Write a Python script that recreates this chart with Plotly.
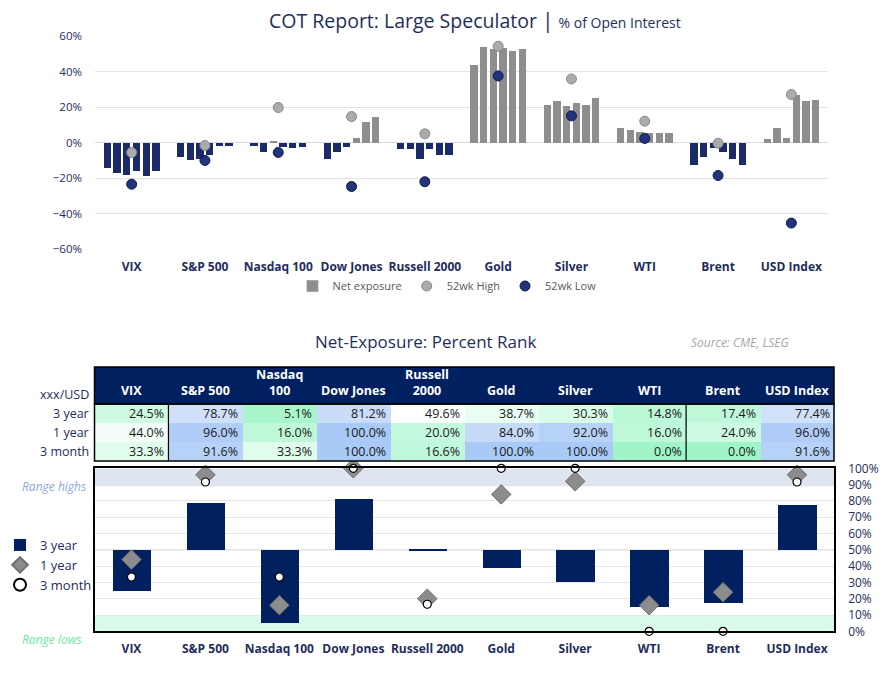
import plotly.graph_objects as go

# ---------------- data ----------------
categories = ["VIX", "S&P 500", "Nasdaq 100", "Dow Jones", "Russell 2000",
              "Gold", "Silver", "WTI", "Brent", "USD Index"]
header_labels = ["VIX", "S&P 500", "Nasdaq<br>100", "Dow Jones", "Russell<br>2000",
                 "Gold", "Silver", "WTI", "Brent", "USD Index"]

# net exposure, last 6 weekly readings (% of open interest)
net_vix = [-14.1, -16.9, -18.2, -16.3, -19.1, -16.3]
net_spx = [-7.9, -10.1, -9.4, -7.3, -1.9, -1.9]
net_ndx = [-1.9, -5.1, 0.5, -2.8, -3.0, -2.8]
net_dow = [-9.4, -5.4, -2.6, 2.4, 11.8, 14.1]
net_rty = [-3.6, -3.6, -9.4, -3.8, -6.8, -6.8]
net_gold = [43.7, 53.7, 52.9, 53.1, 51.6, 52.7]
net_silver = [21.4, 23.3, 20.6, 22.5, 21.4, 24.8]
net_wti = [7.9, 7.1, 6.0, 5.3, 5.4, 5.4]
net_brent = [-12.9, -8.3, -3.2, -5.1, -9.4, -12.9]
net_usd = [1.9, 8.4, 2.3, 26.5, 23.5, 23.8]
net_series = [net_vix, net_spx, net_ndx, net_dow, net_rty,
              net_gold, net_silver, net_wti, net_brent, net_usd]

high_52wk = [-5.6, -1.7, 19.7, 14.6, 4.9, 54.2, 35.8, 12.0, -0.4, 27.0]
low_52wk = [-23.5, -10.1, -5.6, -24.8, -22.1, 37.5, 15.0, 2.3, -18.6, -45.4]

rank_3y = [24.5, 78.7, 5.1, 81.2, 49.6, 38.7, 30.3, 14.8, 17.4, 77.4]
rank_1y = [44.0, 96.0, 16.0, 100.0, 20.0, 84.0, 92.0, 16.0, 24.0, 96.0]
rank_3m = [33.3, 91.6, 33.3, 100.0, 16.6, 100.0, 100.0, 0.0, 0.0, 91.6]
row_labels = ["3 year", "1 year", "3 month"]

# ---------------- styling ----------------
W, H = 892, 676
NAVY = "#1F2D5C"
BAR_NAVY = "#1B2A68"
BAR_GRAY = "#8E8E8E"
DARK = "#002060"
FONT = "Open Sans"


def px(x):
    return x / W


def py(y):
    return 1 - y / H


fig = go.Figure()

# ---------------- top chart ----------------
step = 0.132
bx, by, bc = [], [], []
for i, series in enumerate(net_series):
    for j, v in enumerate(series):
        bx.append(i + (j - 2.5) * step)
        by.append(v)
        bc.append(BAR_NAVY if v < 0 else BAR_GRAY)

fig.add_trace(go.Bar(x=bx, y=by, width=0.1, marker=dict(color=bc, line=dict(width=0)),
                     showlegend=False, hoverinfo="skip", xaxis="x", yaxis="y"))
fig.add_trace(go.Bar(x=[None], y=[None], name="Net exposure", marker_color=BAR_GRAY,
                     xaxis="x", yaxis="y", legend="legend"))
fig.add_trace(go.Scatter(x=list(range(10)), y=high_52wk, mode="markers", name="52wk High",
                         marker=dict(size=10, color="#ABABAB",
                                     line=dict(width=1, color="#8A8A8A")),
                         xaxis="x", yaxis="y", legend="legend", cliponaxis=False))
fig.add_trace(go.Scatter(x=list(range(10)), y=low_52wk, mode="markers", name="52wk Low",
                         marker=dict(size=10, color="#22347A",
                                     line=dict(width=1, color="#101B4E")),
                         xaxis="x", yaxis="y", legend="legend", cliponaxis=False))

# ---------------- table (heatmap) ----------------
fig.add_trace(go.Heatmap(
    z=[rank_3y, rank_1y, rank_3m], x=list(range(10)), y=[0, 1, 2],
    zmin=0, zmax=100, showscale=False, hoverinfo="skip",
    colorscale=[[0, "#9FF5C7"], [0.5, "#FFFFFF"], [1, "#A9C9F6"]],
    xaxis="x3", yaxis="y3"))

# ---------------- bottom chart ----------------
fig.add_trace(go.Bar(x=list(range(10)), y=[v - 50 for v in rank_3y], base=50, width=0.52,
                     name="3 year", marker=dict(color=DARK, line=dict(width=0)),
                     xaxis="x2", yaxis="y2", legend="legend2", hoverinfo="skip"))
fig.add_trace(go.Scatter(x=list(range(10)), y=rank_1y, mode="markers", name="1 year",
                         marker=dict(symbol="diamond", size=15, color="#8C8C8C",
                                     line=dict(color="#6E6E6E", width=1)),
                         xaxis="x2", yaxis="y2", legend="legend2", cliponaxis=False))
fig.add_trace(go.Scatter(x=list(range(10)), y=rank_3m, mode="markers", name="3 month",
                         marker=dict(symbol="circle", size=8, color="white",
                                     line=dict(color="black", width=1.2)),
                         xaxis="x2", yaxis="y2", legend="legend2", cliponaxis=False))

shapes = []
annotations = []

shapes.append(dict(type="rect", xref="x2 domain", yref="y2", x0=0, x1=1, y0=0, y1=10,
                   fillcolor="#DAFBEA", line=dict(width=0), layer="below"))
shapes.append(dict(type="rect", xref="x2 domain", yref="y2", x0=0, x1=1, y0=89, y1=100,
                   fillcolor="#DEE4F0", line=dict(width=0), layer="below"))
shapes.append(dict(type="line", xref="x2 domain", yref="y2", x0=0, x1=1, y0=50, y1=50,
                   line=dict(color="#C4C4C4", width=1), layer="below"))

# table header / frame
TL, TR = 94.5, 834
shapes.append(dict(type="rect", xref="paper", yref="paper", x0=px(TL), x1=px(TR),
                   y0=py(404), y1=py(367), fillcolor=DARK, line=dict(color="black", width=1.5)))
shapes.append(dict(type="rect", xref="paper", yref="paper", x0=px(TL), x1=px(TR),
                   y0=py(461), y1=py(404), line=dict(color="black", width=1.5)))
for xv in (0.5, 7.5):
    shapes.append(dict(type="line", xref="x3", yref="paper", x0=xv, x1=xv,
                       y0=py(461), y1=py(404), line=dict(color="black", width=1.2)))

for i, lab in enumerate(header_labels):
    annotations.append(dict(x=i, xref="x3", y=py(401), yref="paper", text=lab,
                            showarrow=False, xanchor="center", yanchor="bottom",
                            font=dict(family=FONT, size=12.5, color="white", weight=700)))
annotations.append(dict(x=px(91), xref="paper", y=py(394), yref="paper", text="xxx/USD",
                        showarrow=False, xanchor="right", yanchor="middle",
                        font=dict(family=FONT, size=12.5, color=NAVY)))
for r, lab in enumerate(row_labels):
    annotations.append(dict(x=px(91), xref="paper", y=r, yref="y3", text=lab,
                            showarrow=False, xanchor="right", yanchor="middle",
                            font=dict(family=FONT, size=12.5, color=NAVY)))
for r, row in enumerate([rank_3y, rank_1y, rank_3m]):
    for i, v in enumerate(row):
        annotations.append(dict(x=i + 0.5, xref="x3", y=r, yref="y3", text=f"{v:.1f}%",
                                showarrow=False, xanchor="right", yanchor="middle", xshift=-2,
                                font=dict(family=FONT, size=12.5, color="#1A1A1A")))

# titles
annotations.append(dict(x=px(475), y=py(20), xref="paper", yref="paper", showarrow=False,
                        xanchor="center", yanchor="middle",
                        text="COT Report: Large Speculator <span style='font-size:21px'>|</span> "
                             "<span style='font-size:14px'>% of Open Interest</span>",
                        font=dict(family=FONT, size=19.5, color=NAVY)))
annotations.append(dict(x=px(425), y=py(341), xref="paper", yref="paper", showarrow=False,
                        xanchor="center", yanchor="middle", text="Net-Exposure: Percent Rank",
                        font=dict(family=FONT, size=17, color=NAVY)))
annotations.append(dict(x=px(740), y=py(342), xref="paper", yref="paper", showarrow=False,
                        xanchor="center", yanchor="middle", text="<i>Source: CME, LSEG</i>",
                        font=dict(family=FONT, size=12, color="#A6A6A6")))
annotations.append(dict(x=px(88), y=py(486), xref="paper", yref="paper", showarrow=False,
                        xanchor="right", yanchor="middle", text="<i>Range highs</i>",
                        font=dict(family=FONT, size=12, color="#8EA9DB")))
annotations.append(dict(x=px(83), y=py(639), xref="paper", yref="paper", showarrow=False,
                        xanchor="right", yanchor="middle", text="<i>Range lows</i>",
                        font=dict(family=FONT, size=12, color="#6EE7A4")))

fig.update_layout(
    width=W, height=H, margin=dict(l=0, r=0, t=0, b=0, autoexpand=False),
    paper_bgcolor="white", plot_bgcolor="rgba(0,0,0,0)",
    font=dict(family=FONT, color=NAVY),
    barmode="overlay", bargap=0,
    shapes=shapes, annotations=annotations,
    xaxis=dict(domain=[px(95), px(828)], range=[-0.5, 9.5], tickvals=list(range(10)),
               ticktext=categories, showgrid=False, zeroline=False, showline=False,
               ticklabelstandoff=9, automargin=False,
               tickfont=dict(family=FONT, size=12, color=NAVY, weight=700), fixedrange=True),
    yaxis=dict(domain=[py(249), py(36)], range=[-60, 60], dtick=20, ticksuffix="%",
               gridcolor="#E3E3E3", zeroline=True, zerolinecolor="#DADADA", zerolinewidth=1,
               showline=False, ticklabelstandoff=12, automargin=False,
               tickfont=dict(family=FONT, size=11.5, color=NAVY)),
    xaxis2=dict(domain=[px(TL), px(TR)], range=[-0.5, 9.5], tickvals=list(range(10)),
                ticktext=categories, showgrid=False, zeroline=False, showline=True,
                linecolor="black", linewidth=1.5, mirror=True, ticklabelstandoff=6,
                anchor="y2", automargin=False,
                tickfont=dict(family=FONT, size=12, color=NAVY, weight=700)),
    yaxis2=dict(domain=[py(631.3), py(468.3)], range=[0, 100], dtick=10, ticksuffix="%",
                side="right", anchor="x2", gridcolor="#E6E6E6", zeroline=False,
                showline=True, linecolor="black", linewidth=1.5, mirror=True,
                ticklabelstandoff=10, automargin=False,
                tickfont=dict(family=FONT, size=12, color=NAVY)),
    xaxis3=dict(domain=[px(TL), px(TR)], range=[-0.5, 9.5], visible=False, anchor="y3",
                automargin=False),
    yaxis3=dict(domain=[py(461), py(404)], range=[2.5, -0.5], visible=False, anchor="x3",
                automargin=False),
    legend=dict(orientation="h", x=px(447), xanchor="center", y=py(286), yanchor="middle",
                font=dict(family=FONT, size=11, color="#595959"), bgcolor="rgba(0,0,0,0)",
                itemwidth=30),
    legend2=dict(orientation="v", x=0.0, xanchor="left", y=py(565), yanchor="middle",
                 font=dict(family=FONT, size=13, color=NAVY), bgcolor="rgba(0,0,0,0)",
                 itemwidth=30, tracegroupgap=0, itemsizing="constant"),
)

fig.write_html("out.html")
